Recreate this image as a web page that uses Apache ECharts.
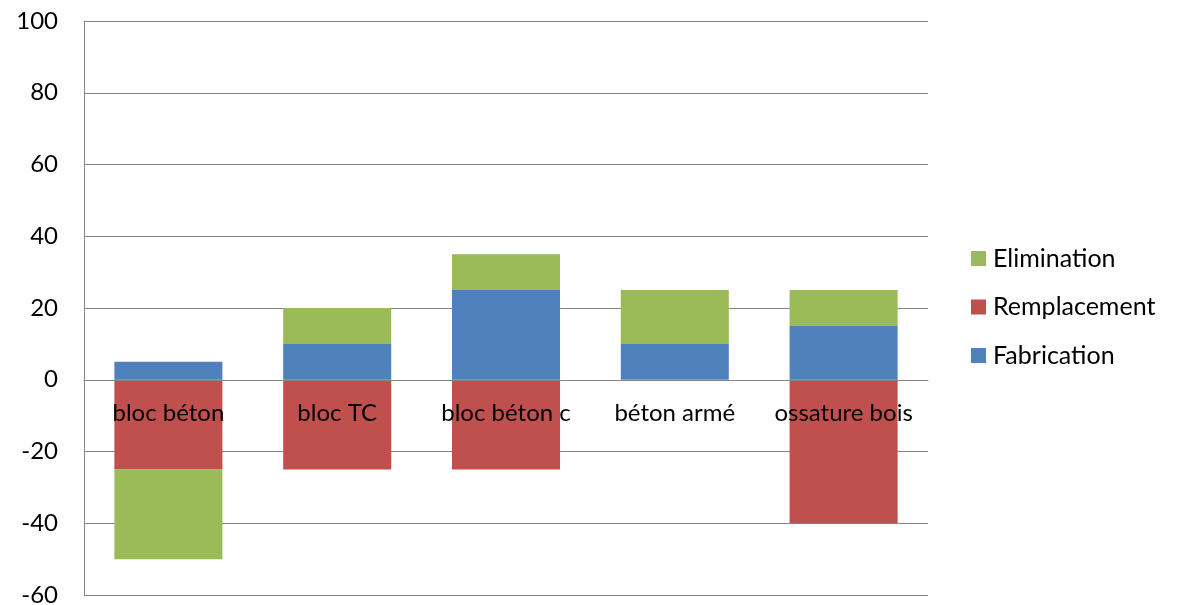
<!DOCTYPE html>
<html>
<head>
<meta charset="utf-8">
<script src="https://cdn.jsdelivr.net/npm/echarts@6/dist/echarts.min.js"></script>
<style>
  html, body { margin: 0; padding: 0; background: #fff; }
  #chart { width: 1178px; height: 605px; }
</style>
</head>
<body>
<div id="chart"></div>
<script>
// Wall systems compared over three life-cycle phases
const categories = ['bloc béton', 'bloc TC', 'bloc béton c', 'béton armé', 'ossature bois'];
const fabrication = [5, 10, 25, 10, 15];
const remplacement = [-25, -25, -25, 0, -40];
const elimination = [-25, 10, 10, 15, 10];
const yTicks = { min: -60, max: 100, step: 20 };

const FONT = 'Lato, "Open Sans", sans-serif';
const GRID_GRAY = '#868686';
const GRID_TOP = 21;
const GRID_BOTTOM = 10;
const CHART_H = 605;

// category axis sits on the zero line of the value axis
const plotH = CHART_H - GRID_TOP - GRID_BOTTOM;
const zeroFromBottom = plotH * (0 - yTicks.min) / (yTicks.max - yTicks.min);

const chart = echarts.init(document.getElementById('chart'));

function barSeries(name, data, color) {
  return {
    name: name,
    type: 'bar',
    stack: 'total',
    barWidth: '64%',
    data: data,
    itemStyle: { color: color },
    emphasis: { disabled: true }
  };
}

chart.setOption({
  animation: false,
  textStyle: { fontFamily: FONT },
  grid: { left: 84, right: 250, top: GRID_TOP, bottom: GRID_BOTTOM, containLabel: false, outerBoundsMode: 'none' },
  legend: {
    orient: 'vertical',
    left: 971,
    top: 246,
    padding: 0,
    itemWidth: 15,
    itemHeight: 15,
    itemGap: 23.5,
    icon: 'rect',
    data: ['Elimination', 'Remplacement', 'Fabrication'],
    textStyle: { fontFamily: FONT, fontSize: 25, color: '#000', padding: [0, 0, 0, 2] }
  },
  xAxis: {
    type: 'category',
    data: categories,
    z: 10,
    offset: -zeroFromBottom,
    axisLine: { show: true, onZero: false, lineStyle: { color: GRID_GRAY, width: 1 } },
    axisTick: { show: false },
    axisLabel: { fontFamily: FONT, fontSize: 24, color: '#000', margin: 22, interval: 0 },
    splitLine: { show: false }
  },
  yAxis: {
    type: 'value',
    min: yTicks.min,
    max: yTicks.max,
    interval: yTicks.step,
    axisLine: { show: true, lineStyle: { color: GRID_GRAY, width: 1 } },
    axisTick: { show: false },
    axisLabel: { fontFamily: FONT, fontSize: 24, color: '#000', margin: 26 },
    splitLine: { show: true, lineStyle: { color: GRID_GRAY, width: 1 } }
  },
  series: [
    barSeries('Fabrication', fabrication, '#4F81BD'),
    barSeries('Remplacement', remplacement, '#C0504D'),
    barSeries('Elimination', elimination, '#9BBB59')
  ]
});
</script>
</body>
</html>
